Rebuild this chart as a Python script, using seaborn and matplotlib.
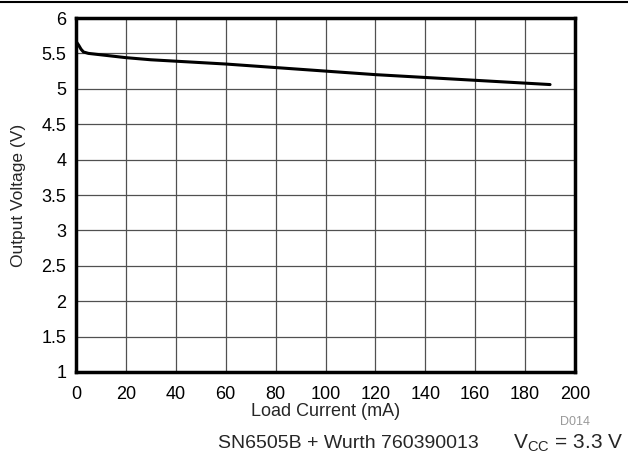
import numpy as np
import pandas as pd
import seaborn as sns
import matplotlib.pyplot as plt
from matplotlib.lines import Line2D

# Data
load_current = [0, 1, 2, 3, 5, 10, 20, 30, 40, 50, 60, 80, 100, 120, 140, 160, 180, 190]
output_voltage = [5.67, 5.62, 5.56, 5.52, 5.50, 5.48, 5.44, 5.41, 5.39, 5.37, 5.35,
                  5.30, 5.25, 5.20, 5.16, 5.12, 5.08, 5.06]
x_ticks = list(range(0, 201, 20))
y_ticks = [1, 1.5, 2, 2.5, 3, 3.5, 4, 4.5, 5, 5.5, 6]

df = pd.DataFrame({'current': load_current, 'voltage': output_voltage})

sns.set_style('white')
plt.rcParams['font.family'] = ['Liberation Sans', 'DejaVu Sans']

fig = plt.figure(figsize=(6.28, 4.57), dpi=100)
ax = fig.add_axes([76 / 628, 1 - 372 / 457, 499 / 628, 354 / 457])

sns.lineplot(data=df, x='current', y='voltage', ax=ax, color='black', linewidth=2.2)

ax.set_xlim(0, 200)
ax.set_ylim(1, 6)
ax.set_xticks(x_ticks)
ax.set_xticklabels([str(t) for t in x_ticks])
ax.set_yticks(y_ticks)
ax.set_yticklabels([f'{t:g}' for t in y_ticks])
ax.grid(True, color='#505050', linewidth=0.9)
ax.tick_params(axis='x', length=0, labelsize=13, pad=10, colors='black')
ax.tick_params(axis='y', length=0, labelsize=13, pad=7, colors='black')
for s in ax.spines.values():
    s.set_visible(True)
    s.set_color('black')
    s.set_linewidth(2.5)

ax.set_xlabel('Load Current (mA)', fontsize=13, labelpad=0)
ax.set_ylabel('Output Voltage (V)', fontsize=12.5, labelpad=11)

fig.add_artist(Line2D([0, 1], [1 - 2 / 457, 1 - 2 / 457], color='black', linewidth=1.5))
fig.text(590 / 628, 1 - 422 / 457, 'D014', fontsize=9, color='#999999', ha='right', va='center')
fig.text(348 / 628, 1 - 443 / 457, 'SN6505B + Wurth 760390013', fontsize=14, ha='center', va='center')
fig.text(623 / 628, 1 - 443 / 457, r'V$_{\mathregular{CC}}$ = 3.3 V', fontsize=15, ha='right', va='center')

plt.savefig('out.png', dpi=100)
